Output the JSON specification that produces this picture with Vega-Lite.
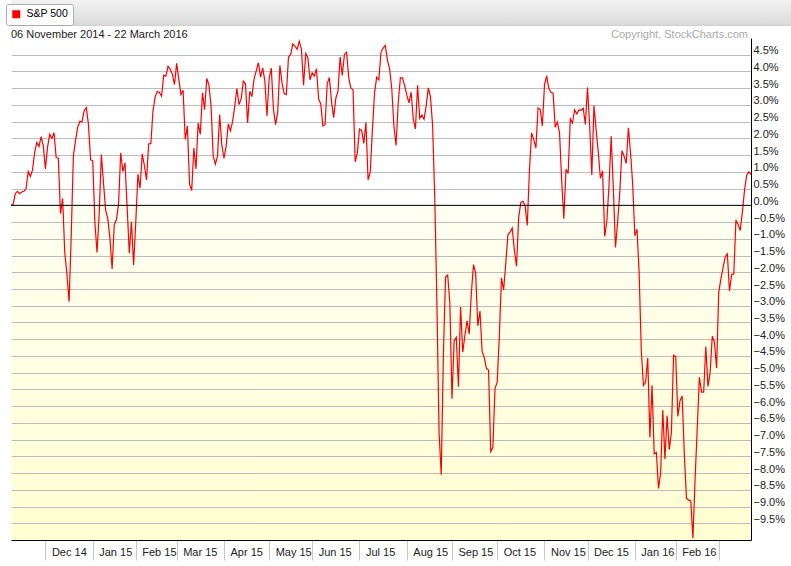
{
"$schema": "https://vega.github.io/schema/vega-lite/v6.json",
"background": "#ffffff",
"padding": 0,
"spacing": 3,
"align": "none",
"config": {"view": {"stroke": null}, "font": "Liberation Sans"},
"vconcat": [
{
"width": 791, "height": 26,
"view": {"stroke": null, "fill": {"gradient": "linear", "x1": 0, "y1": 0, "x2": 0, "y2": 1, "stops": [{"offset": 0, "color": "#f3f3f3"}, {"offset": 0.92, "color": "#dcdcdc"}, {"offset": 1, "color": "#cfcfcf"}]}},
"data": {"values": []},
"mark": "point"
},
{
"width": 740, "height": 502,
"view": {"stroke": null, "fill": {"gradient": "linear", "x1": 0, "y1": 0, "x2": 0, "y2": 1, "stops": [{"offset": 0, "color": "#ffffff"}, {"offset": 0.333, "color": "#ffffff"}, {"offset": 0.334, "color": "#fffff3"}, {"offset": 1, "color": "#ffffd2"}]}},
"resolve": {"axis": {"y": "independent"}},
"layer": [
{
"data": {"values": [
{"i":0,"v":0.00},{"i":1,"v":0.03},{"i":2,"v":0.35},{"i":3,"v":0.42},{"i":4,"v":0.35},{"i":5,"v":0.40},{"i":6,"v":0.42},{"i":7,"v":0.50},{"i":8,"v":1.01},{"i":9,"v":0.86},
{"i":10,"v":1.06},{"i":11,"v":1.59},{"i":12,"v":1.88},{"i":13,"v":1.76},{"i":14,"v":2.05},{"i":15,"v":1.79},{"i":16,"v":1.09},{"i":17,"v":1.74},{"i":18,"v":2.12},{"i":19,"v":2.00},
{"i":20,"v":2.17},{"i":21,"v":1.43},{"i":22,"v":1.41},{"i":23,"v":-0.25},{"i":24,"v":0.20},{"i":25,"v":-1.42},{"i":26,"v":-2.05},{"i":27,"v":-2.88},{"i":28,"v":-0.90},{"i":29,"v":1.48},
{"i":30,"v":1.94},{"i":31,"v":2.33},{"i":32,"v":2.51},{"i":33,"v":2.49},{"i":34,"v":2.83},{"i":35,"v":2.92},{"i":36,"v":2.42},{"i":37,"v":1.36},{"i":38,"v":1.33},{"i":39,"v":-0.52},
{"i":40,"v":-1.41},{"i":41,"v":-0.26},{"i":42,"v":1.52},{"i":43,"v":0.67},{"i":44,"v":-0.15},{"i":45,"v":-0.40},{"i":46,"v":-0.98},{"i":47,"v":-1.90},{"i":48,"v":-0.58},{"i":49,"v":-0.43},
{"i":50,"v":0.04},{"i":51,"v":1.57},{"i":52,"v":1.01},{"i":53,"v":1.27},{"i":54,"v":-0.08},{"i":55,"v":-1.43},{"i":56,"v":-0.49},{"i":57,"v":-1.78},{"i":58,"v":-0.51},{"i":59,"v":0.93},
{"i":60,"v":0.51},{"i":61,"v":1.54},{"i":62,"v":1.19},{"i":63,"v":0.76},{"i":64,"v":1.84},{"i":65,"v":1.84},{"i":66,"v":2.82},{"i":67,"v":3.24},{"i":68,"v":3.40},{"i":69,"v":3.37},
{"i":70,"v":3.26},{"i":71,"v":3.89},{"i":72,"v":3.86},{"i":73,"v":4.15},{"i":74,"v":4.07},{"i":75,"v":3.92},{"i":76,"v":3.61},{"i":77,"v":4.24},{"i":78,"v":3.77},{"i":79,"v":3.31},
{"i":80,"v":3.44},{"i":81,"v":1.97},{"i":82,"v":2.37},{"i":83,"v":0.64},{"i":84,"v":0.44},{"i":85,"v":1.71},{"i":86,"v":1.09},{"i":87,"v":2.46},{"i":88,"v":2.12},{"i":89,"v":3.36},
{"i":90,"v":2.86},{"i":91,"v":3.79},{"i":92,"v":3.60},{"i":93,"v":2.97},{"i":94,"v":1.47},{"i":95,"v":1.23},{"i":96,"v":1.47},{"i":97,"v":2.71},{"i":98,"v":1.81},{"i":99,"v":1.40},
{"i":100,"v":1.76},{"i":101,"v":2.43},{"i":102,"v":2.22},{"i":103,"v":2.50},{"i":104,"v":2.95},{"i":105,"v":3.49},{"i":106,"v":3.01},{"i":107,"v":3.18},{"i":108,"v":3.71},{"i":109,"v":3.63},
{"i":110,"v":2.46},{"i":111,"v":3.41},{"i":112,"v":3.25},{"i":113,"v":3.78},{"i":114,"v":4.02},{"i":115,"v":4.26},{"i":116,"v":3.83},{"i":117,"v":4.11},{"i":118,"v":3.72},{"i":119,"v":2.67},
{"i":120,"v":3.79},{"i":121,"v":4.10},{"i":122,"v":2.87},{"i":123,"v":2.41},{"i":124,"v":2.80},{"i":125,"v":4.18},{"i":126,"v":3.65},{"i":127,"v":3.34},{"i":128,"v":3.31},{"i":129,"v":4.43},
{"i":130,"v":4.51},{"i":131,"v":4.82},{"i":132,"v":4.76},{"i":133,"v":4.66},{"i":134,"v":4.90},{"i":135,"v":4.67},{"i":136,"v":3.59},{"i":137,"v":4.54},{"i":138,"v":4.41},{"i":139,"v":3.75},
{"i":140,"v":3.96},{"i":141,"v":3.86},{"i":142,"v":4.08},{"i":143,"v":3.18},{"i":144,"v":3.03},{"i":145,"v":2.37},{"i":146,"v":2.41},{"i":147,"v":3.64},{"i":148,"v":3.82},{"i":149,"v":3.10},
{"i":150,"v":2.62},{"i":151,"v":3.20},{"i":152,"v":3.41},{"i":153,"v":4.43},{"i":154,"v":3.88},{"i":155,"v":4.51},{"i":156,"v":4.58},{"i":157,"v":3.81},{"i":158,"v":3.50},{"i":159,"v":3.46},
{"i":160,"v":1.30},{"i":161,"v":1.57},{"i":162,"v":2.28},{"i":163,"v":2.24},{"i":164,"v":1.85},{"i":165,"v":2.47},{"i":166,"v":0.76},{"i":167,"v":0.99},{"i":168,"v":2.24},{"i":169,"v":3.37},
{"i":170,"v":3.83},{"i":171,"v":3.75},{"i":172,"v":4.58},{"i":173,"v":4.70},{"i":174,"v":4.78},{"i":175,"v":4.33},{"i":176,"v":4.08},{"i":177,"v":3.49},{"i":178,"v":2.38},{"i":179,"v":1.79},
{"i":180,"v":3.05},{"i":181,"v":3.81},{"i":182,"v":3.81},{"i":183,"v":3.58},{"i":184,"v":3.29},{"i":185,"v":3.06},{"i":186,"v":3.38},{"i":187,"v":2.58},{"i":188,"v":2.28},{"i":189,"v":3.59},
{"i":190,"v":2.60},{"i":191,"v":2.70},{"i":192,"v":2.57},{"i":193,"v":2.97},{"i":194,"v":3.51},{"i":195,"v":3.24},{"i":196,"v":2.38},{"i":197,"v":0.22},{"i":198,"v":-2.97},{"i":199,"v":-6.79},
{"i":200,"v":-8.05},{"i":201,"v":-4.47},{"i":202,"v":-2.14},{"i":203,"v":-2.08},{"i":204,"v":-2.91},{"i":205,"v":-5.78},{"i":206,"v":-4.05},{"i":207,"v":-3.94},{"i":208,"v":-5.42},{"i":209,"v":-3.04},
{"i":210,"v":-4.39},{"i":211,"v":-3.89},{"i":212,"v":-3.45},{"i":213,"v":-3.85},{"i":214,"v":-2.62},{"i":215,"v":-1.77},{"i":216,"v":-2.02},{"i":217,"v":-3.60},{"i":218,"v":-3.16},{"i":219,"v":-4.36},
{"i":220,"v":-4.55},{"i":221,"v":-4.87},{"i":222,"v":-4.92},{"i":223,"v":-7.36},{"i":224,"v":-7.24},{"i":225,"v":-5.47},{"i":226,"v":-5.29},{"i":227,"v":-3.93},{"i":228,"v":-2.17},{"i":229,"v":-2.53},
{"i":230,"v":-1.74},{"i":231,"v":-0.88},{"i":232,"v":-0.80},{"i":233,"v":-0.68},{"i":234,"v":-1.35},{"i":235,"v":-1.82},{"i":236,"v":-0.36},{"i":237,"v":0.09},{"i":238,"v":0.12},{"i":239,"v":-0.02},
{"i":240,"v":-0.60},{"i":241,"v":1.05},{"i":242,"v":2.16},{"i":243,"v":1.97},{"i":244,"v":1.71},{"i":245,"v":2.91},{"i":246,"v":2.87},{"i":247,"v":2.37},{"i":248,"v":3.59},{"i":249,"v":3.87},
{"i":250,"v":3.50},{"i":251,"v":3.38},{"i":252,"v":3.35},{"i":253,"v":2.33},{"i":254,"v":2.49},{"i":255,"v":2.16},{"i":256,"v":0.73},{"i":257,"v":-0.40},{"i":258,"v":1.08},{"i":259,"v":0.95},
{"i":260,"v":2.58},{"i":261,"v":2.46},{"i":262,"v":2.85},{"i":263,"v":2.73},{"i":264,"v":2.85},{"i":265,"v":2.84},{"i":266,"v":2.90},{"i":267,"v":2.42},{"i":268,"v":3.52},{"i":269,"v":2.38},
{"i":270,"v":0.91},{"i":271,"v":2.98},{"i":272,"v":2.26},{"i":273,"v":1.59},{"i":274,"v":0.81},{"i":275,"v":1.03},{"i":276,"v":-0.93},{"i":277,"v":-0.46},{"i":278,"v":0.60},{"i":279,"v":2.06},
{"i":280,"v":0.53},{"i":281,"v":-1.26},{"i":282,"v":-0.50},{"i":283,"v":0.38},{"i":284,"v":1.63},{"i":285,"v":1.47},{"i":286,"v":1.25},{"i":287,"v":2.32},{"i":288,"v":1.58},{"i":289,"v":0.63},
{"i":290,"v":-0.91},{"i":291,"v":-0.71},{"i":292,"v":-2.02},{"i":293,"v":-4.34},{"i":294,"v":-5.38},{"i":295,"v":-5.29},{"i":296,"v":-4.56},{"i":297,"v":-6.94},{"i":298,"v":-5.38},{"i":299,"v":-7.43},
{"i":300,"v":-7.38},{"i":301,"v":-8.46},{"i":302,"v":-7.99},{"i":303,"v":-6.12},{"i":304,"v":-7.59},{"i":305,"v":-6.28},{"i":306,"v":-7.30},{"i":307,"v":-6.79},{"i":308,"v":-4.48},{"i":309,"v":-4.52},
{"i":310,"v":-6.31},{"i":311,"v":-5.84},{"i":312,"v":-5.70},{"i":313,"v":-7.44},{"i":314,"v":-8.75},{"i":315,"v":-8.81},{"i":316,"v":-8.83},{"i":317,"v":-9.95},{"i":318,"v":-8.19},{"i":319,"v":-6.68},
{"i":320,"v":-5.14},{"i":321,"v":-5.58},{"i":322,"v":-5.58},{"i":323,"v":-4.22},{"i":324,"v":-5.41},{"i":325,"v":-4.99},{"i":326,"v":-3.91},{"i":327,"v":-4.09},{"i":328,"v":-4.87},{"i":329,"v":-2.60},
{"i":330,"v":-2.20},{"i":331,"v":-1.86},{"i":332,"v":-1.54},{"i":333,"v":-1.45},{"i":334,"v":-2.56},{"i":335,"v":-2.07},{"i":336,"v":-2.05},{"i":337,"v":-0.44},{"i":338,"v":-0.57},{"i":339,"v":-0.75},
{"i":340,"v":-0.20},{"i":341,"v":0.46},{"i":342,"v":0.90},{"i":343,"v":1.00},{"i":344,"v":0.92}
]},
"mark": {"type": "line", "strokeWidth": 1.2, "interpolate": "linear"},
"encoding": {
"x": {"field": "i", "type": "quantitative", "scale": {"domain": [0, 344], "nice": false, "zero": false},
"axis": {"title": null, "values": [16,38,58,77,99,120,140,162,184,205,226,248,268,290,309,329],
"labelExpr": "['Dec 14','Jan 15','Feb 15','Mar 15','Apr 15','May 15','Jun 15','Jul 15','Aug 15','Sep 15','Oct 15','Nov 15','Dec 15','Jan 16','Feb 16',''][indexof([16,38,58,77,99,120,140,162,184,205,226,248,268,290,309,329], datum.value)]",
"grid": false, "domain": true, "domainColor": "#000000", "domainWidth": 1, "ticks": true, "tickColor": "#c8c8c8", "tickWidth": 1, "tickSize": 20,
"labelAlign": "left", "labelBaseline": "middle", "labelOffset": 6, "labelPadding": -8, "labelFont": "Liberation Sans", "labelFontSize": 11, "labelColor": "#222222", "labelOverlap": false, "labelFlush": false}},
"y": {"field": "v", "type": "quantitative", "scale": {"domain": [-10, 5], "nice": false, "zero": false},
"axis": {"orient": "right", "title": null, "values": [-9.5,-9,-8.5,-8,-7.5,-7,-6.5,-6,-5.5,-5,-4.5,-4,-3.5,-3,-2.5,-2,-1.5,-1,-0.5,0,0.5,1,1.5,2,2.5,3,3.5,4,4.5],
"labelExpr": "format(datum.value, '.1f') + '%'", "grid": true, "gridColor": "#bdbdbd", "gridWidth": 1, "ticks": false, "domain": true, "domainColor": "#000000", "domainWidth": 1,
"labelPadding": 2, "labelBaseline": "alphabetic", "labelOffset": -1, "labelFont": "Liberation Sans", "labelFontSize": 11, "labelColor": "#222222", "labelOverlap": false, "labelFlush": false}},
"color": {"datum": "S&P 500", "type": "nominal", "scale": {"range": ["#ff0000"]},
"legend": {"title": null, "orient": "none", "legendX": -5, "legendY": 4, "symbolType": "square", "symbolSize": 64, "symbolFillColor": "#ff0000", "symbolStrokeColor": "#ff0000", "symbolStrokeWidth": 0, "fillColor": "#ffffff", "strokeColor": "#aaaaaa", "padding": 5, "cornerRadius": 2, "labelFont": "Liberation Sans", "labelFontSize": 10.5, "labelColor": "#000000", "labelOffset": 5}}
}
},
{
"data": {"values": [{"z": 0}]},
"mark": {"type": "rule", "color": "#000000", "strokeWidth": 1},
"encoding": {"y": {"field": "z", "type": "quantitative", "axis": {"orient": "left", "title": null, "labels": false, "ticks": false, "domain": false, "grid": false, "minExtent": 11, "maxExtent": 11}}}
},
{
"data": {"values": [{"label": "06 November 2014 - 22 March 2016"}]},
"mark": {"type": "text", "align": "left", "baseline": "alphabetic", "font": "Liberation Sans", "fontSize": 11, "color": "#222222"},
"encoding": {"x": {"datum": 0, "type": "quantitative"}, "y": {"datum": 5, "type": "quantitative", "axis": null}, "text": {"field": "label"}}
},
{
"data": {"values": [{"label": "Copyright, StockCharts.com"}]},
"mark": {"type": "text", "align": "right", "baseline": "alphabetic", "dx": -3, "font": "Liberation Sans", "fontSize": 11, "color": "#aaaaaa"},
"encoding": {"x": {"datum": 344, "type": "quantitative"}, "y": {"datum": 5, "type": "quantitative", "axis": null}, "text": {"field": "label"}}
}
]
}
]
}
